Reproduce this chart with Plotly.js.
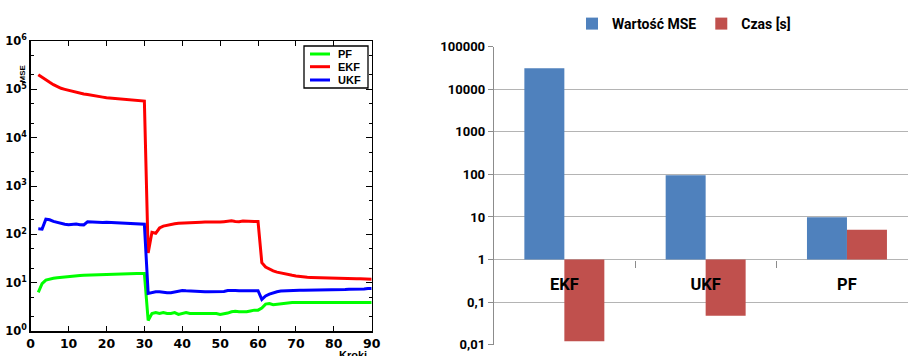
<!DOCTYPE html>
<html>
<head>
<meta charset="utf-8">
<script src="https://cdn.plot.ly/plotly-3.0.1.min.js"></script>
<style>html,body{margin:0;padding:0;background:#fff;}#chart{width:908px;height:356px;}</style>
</head>
<body>
<div id="chart"></div>
<script>
// ---- Left chart: MSE per step (log scale) ----
const stepStart = 2, stepEnd = 90;
const steps = Array.from({length: stepEnd - stepStart + 1}, (_, i) => stepStart + i);

const mseEKF = [
  200000,175000,155000,140000,125000,113000,105000,100000,95000,90000,86000,83000,80000,78000,75000,
  73000,71000,69000,67000,66000,64000,63000,62000,61000,60000,59000,58500,57500,57000,
  41,110,105,135,148,155,160,165,170,172,175,178,176,180,178,179,178,180,181,180,183,188,190,185,183,188,185,184,184,184,
  26,21,19,17.5,16.5,15.8,15.2,14.6,14.2,13.8,13.4,13.1,12.9,12.8,12.7,12.6,12.5,12.5,12.4,12.3,12.3,12.2,12.2,12.1,12.1,12.0,12.0,11.9,11.8,11.8
];
const mseUKF = [
  130,128,205,200,185,175,168,162,158,160,163,158,157,182,180,175,172,175,177,176,172,168,167,166,165,165,164,163,162,
  6.0,6.3,6.5,6.5,6.3,6.2,6.2,6.5,6.8,6.9,6.8,6.7,6.6,6.5,6.5,6.5,6.5,6.5,6.5,6.5,6.6,6.9,7.0,6.9,6.8,6.8,6.8,6.8,6.8,6.8,
  4.5,5.3,5.8,6.2,6.5,6.7,6.8,6.9,6.9,7.0,7.0,7.0,7.0,7.1,7.1,7.2,7.1,7.1,7.2,7.2,7.2,7.2,7.2,7.3,7.3,7.3,7.3,7.4,7.6,7.6
];
const msePF = [
  6.3,9.5,11.3,12.0,12.3,12.6,12.9,13.1,13.4,13.6,13.9,14.1,14.3,14.4,14.5,14.6,14.8,14.9,15.0,15.1,15.3,15.4,15.5,15.5,15.5,15.5,15.5,15.5,15.5,
  1.65,2.3,2.4,2.3,2.4,2.3,2.3,2.4,2.2,2.3,2.4,2.3,2.3,2.3,2.3,2.3,2.3,2.35,2.3,2.2,2.25,2.35,2.5,2.55,2.5,2.5,2.5,2.6,2.7,2.7,
  3.0,3.6,3.7,3.5,3.6,3.7,3.8,3.9,3.9,3.9,3.9,3.9,3.9,3.9,3.9,3.9,3.9,3.9,3.9,3.9,3.9,3.9,3.9,3.9,3.9,3.9,3.9,3.9,3.9,3.9
];
const seriesNames = ["PF", "EKF", "UKF"];
const seriesColors = ["#00ff00", "#ff0000", "#0000ff"];
const leftYTickVals = [1, 10, 100, 1000, 10000, 100000, 1000000];
const leftYTickText = ["10<sup>0</sup>","10<sup>1</sup>","10<sup>2</sup>","10<sup>3</sup>","10<sup>4</sup>","10<sup>5</sup>","10<sup>6</sup>"];
const leftXTickVals = [0,10,20,30,40,50,60,70,80,90];

// ---- Right chart: bars ----
const filters = ["EKF", "UKF", "PF"];
const mseValues = [31000, 95, 9.8];
const timeValues = [0.012, 0.048, 5.0];
const barNames = ["Wartość MSE", "Czas [s]"];
const rightYTickVals = [0.01, 0.1, 1, 10, 100, 1000, 10000, 100000];
const rightYTickText = ["0,01", "0,1", "1", "10", "100", "1000", "10000", "100000"];
const barBase = 1;

const W = 908, H = 356;
const px2x = p => p / W;
const px2y = p => 1 - p / H;
const b = s => "<b>" + s + "</b>";
const XL_FONT = "Roboto, 'Noto Sans', sans-serif";

const leftSeries = [msePF, mseEKF, mseUKF];
const traces = leftSeries.map((ys, i) => ({
  x: steps, y: ys, name: seriesNames[i], type: "scatter", mode: "lines",
  line: {color: seriesColors[i], width: 3}, xaxis: "x", yaxis: "y", showlegend: false
}));
traces.push(
  {x: filters, y: mseValues.map(v => v - barBase), base: barBase, name: b(barNames[0]), type: "bar",
   marker: {color: "#4f81bd"}, xaxis: "x2", yaxis: "y2", legend: "legend2"},
  {x: filters, y: timeValues.map(v => v - barBase), base: barBase, name: b(barNames[1]), type: "bar",
   marker: {color: "#c0504d"}, xaxis: "x2", yaxis: "y2", legend: "legend2"}
);

// manual MATLAB-style legend box (styling only)
const legBox = {x0: 304, x1: 368, y0: 46, y1: 88};
const legRowY = [54, 66.7, 80];
const shapes = [
  {type: "rect", xref: "paper", yref: "paper", x0: px2x(legBox.x0), x1: px2x(legBox.x1),
   y0: px2y(legBox.y1), y1: px2y(legBox.y0), line: {color: "#000", width: 1.3}, fillcolor: "#fff", layer: "above"}
];
const annotations = [];
seriesNames.forEach((n, i) => {
  shapes.push({type: "line", xref: "paper", yref: "paper", x0: px2x(310), x1: px2x(330),
    y0: px2y(legRowY[i]), y1: px2y(legRowY[i]), line: {color: seriesColors[i], width: 3}, layer: "above"});
  annotations.push({text: b(n), xref: "paper", yref: "paper", x: px2x(336), y: px2y(legRowY[i]),
    xanchor: "left", yanchor: "middle", showarrow: false,
    font: {family: "Liberation Sans, Arial, sans-serif", size: 11, color: "#000", weight: "bold"}});
});
annotations.push(
  {text: b("MSE"), xref: "paper", yref: "paper", x: px2x(16), y: px2y(63), showarrow: false, textangle: -90,
   font: {family: "Liberation Sans, Arial, sans-serif", size: 8, color: "#000", weight: "bold"}},
  {text: b("Kroki"), xref: "paper", yref: "paper", x: px2x(353), y: px2y(347), yanchor: "top", showarrow: false,
   font: {family: "Liberation Sans, Arial, sans-serif", size: 11, color: "#000", weight: "bold"}}
);

const layout = {
  width: W, height: H, autosize: false,
  margin: {l: 0, r: 0, t: 0, b: 0, pad: 0},
  paper_bgcolor: "#fff", plot_bgcolor: "#fff",
  showlegend: true,
  barmode: "group", bargap: 0.434, bargroupgap: 0,
  xaxis: {
    domain: [px2x(30.7), px2x(371.7)], range: [0, 90], anchor: "y",
    showgrid: false, zeroline: false,
    showline: true, linecolor: "#000", linewidth: 1.5, mirror: "ticks",
    ticks: "inside", ticklen: 5, tickwidth: 1, tickcolor: "#000",
    tickvals: leftXTickVals, ticktext: leftXTickVals.map(v => b(String(v))),
    tickfont: {family: "DejaVu Sans, sans-serif", size: 12.5, color: "#000", weight: "bold"}
  },
  yaxis: {
    domain: [px2y(331), px2y(41)], type: "log", range: [0, 6], anchor: "x",
    showgrid: false, zeroline: false,
    showline: true, linecolor: "#000", linewidth: 1.5, mirror: "ticks",
    ticks: "inside", ticklen: 6, tickwidth: 1, tickcolor: "#000",
    tickvals: leftYTickVals, ticktext: leftYTickText.map(b),
    tickfont: {family: "DejaVu Sans, sans-serif", size: 11.5, color: "#000", weight: "bold"},
    minor: {ticks: "inside", ticklen: 3, tickcolor: "#000", tickwidth: 1, showgrid: false}
  },
  xaxis2: {
    domain: [px2x(493.7), 1], range: [-0.5, 2.432], type: "category",
    anchor: "free", position: px2y(259.7),
    showgrid: false, zeroline: false, showline: false,
    ticks: "outside", ticklen: 7, tickcolor: "#8c8c8c", tickwidth: 1, tickson: "boundaries",
    tickvals: filters, ticktext: filters.map(b),
    tickfont: {family: XL_FONT, size: 16.5, color: "#000", weight: "bold"},
    ticklabelstandoff: 13
  },
  yaxis2: {
    domain: [px2y(344.7), px2y(46.7)], type: "log", range: [-2, 5], anchor: "x2",
    showgrid: true, gridcolor: "#b4b4b4", gridwidth: 1, zeroline: false,
    showline: true, linecolor: "#8c8c8c", linewidth: 1,
    ticks: "outside", ticklen: 5, tickcolor: "#8c8c8c",
    tickvals: rightYTickVals, ticktext: rightYTickText.map(b),
    tickfont: {family: XL_FONT, size: 13, color: "#000", weight: "bold"}
  },
  legend2: {
    orientation: "h", x: px2x(572), y: px2y(8), xanchor: "left", yanchor: "top",
    bgcolor: "rgba(0,0,0,0)", borderwidth: 0,
    font: {family: XL_FONT, size: 14, color: "#000", weight: "bold"},
    itemwidth: 30
  },
  shapes: shapes,
  annotations: annotations
};

Plotly.newPlot("chart", traces, layout, {staticPlot: true, displayModeBar: false});
</script>
</body>
</html>
